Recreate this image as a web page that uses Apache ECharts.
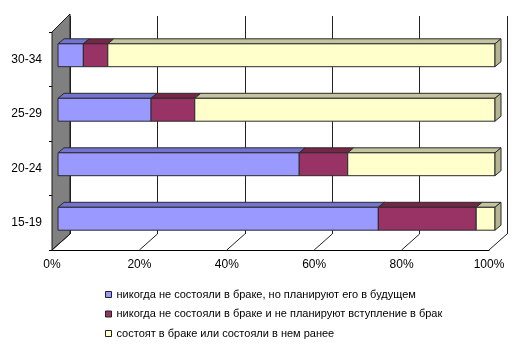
<!DOCTYPE html>
<html><head><meta charset="utf-8">
<script src="https://cdn.jsdelivr.net/npm/echarts@6/dist/echarts.min.js"></script>
<style>html,body{margin:0;padding:0;background:#fff}#c{width:523px;height:347px}</style>
</head><body><div id="c"></div>
<script>
const categories = ['15-19', '20-24', '25-29', '30-34'];
const neverButPlanning = [73.3, 55.2, 21.3, 5.8];
const neverNotPlanning = [22.4, 11.1, 10.0, 5.6];
const marriedNowOrBefore = [4.3, 33.7, 68.7, 88.6];
const xTicks = [0, 20, 40, 60, 80, 100];
const seriesNames = [
  'никогда не состояли в браке, но планируют его в будущем',
  'никогда не состояли в браке и не планируют вступление в брак',
  'состоят в браке или состояли в нем ранее'
];

const FONT = '"Liberation Sans", Arial, sans-serif';
const front = ['#9999FF', '#993366', '#FFFFCC'];
const topc = ['#7373D2', '#772648', '#C4C4A0'];
const sidec = '#B5B591';
const DX = 18, DY = -16;   // depth of the 3D box
const BDX = 6, BDY = -5;   // depth of each bar

const valueSets = [neverButPlanning, neverNotPlanning, marriedNowOrBefore];
const stacked = valueSets.map((vals, s) => vals.map((v, i) => {
  let start = 0;
  for (let k = 0; k < s; k++) start += valueSets[k][i];
  return [i, start, start + v];
}));

function barRender(s) {
  return function (params, api) {
    const cat = api.value(0);
    const c0 = api.coord([api.value(1), cat]);
    const c1 = api.coord([api.value(2), cat]);
    const bh = api.size([0, 1])[1] * 0.42;
    const y0 = c0[1] - bh / 2, y1 = c0[1] + bh / 2;
    const x0 = c0[0], x1 = c1[0];
    const stroke = { stroke: '#2a2a2a', lineWidth: 1 };
    const children = [
      { type: 'polygon', shape: { points: [[x0, y0], [x1, y0], [x1 + BDX, y0 + BDY], [x0 + BDX, y0 + BDY]] },
        style: Object.assign({ fill: topc[s] }, stroke) },
      { type: 'rect', shape: { x: x0, y: y0, width: x1 - x0, height: bh },
        style: Object.assign({ fill: front[s] }, stroke) }
    ];
    if (s === 2) {
      children.push({ type: 'polygon', shape: { points: [[x1, y0], [x1 + BDX, y0 + BDY], [x1 + BDX, y1 + BDY], [x1, y1]] },
        style: Object.assign({ fill: sidec }, stroke) });
    }
    return { type: 'group', children };
  };
}

function frameRender(params, api) {
  const cs = params.coordSys;
  const x = cs.x, y = cs.y, h = cs.height;
  const children = [
    { type: 'polygon', shape: { points: [[x, y], [x + DX, y + DY - 2], [x + DX, y + h + DY], [x, y + h]] },
      style: { fill: '#808080', stroke: '#1a1a1a', lineWidth: 1 } }
  ];
  xTicks.forEach(v => {
    const px = api.coord([v, 0])[0];
    children.push({ type: 'line', shape: { x1: px, y1: y + h, x2: px + DX, y2: y + h + DY },
      style: { stroke: '#222', lineWidth: 1 } });
  });
  return { type: 'group', children };
}

const chart = echarts.init(document.getElementById('c'));
chart.setOption({
  backgroundColor: '#fff',
  animation: false,
  legend: {
    orient: 'vertical', left: 100, top: 284,
    itemWidth: 6, itemHeight: 6, itemGap: 8.5,
    itemStyle: { borderColor: '#222', borderWidth: 1 },
    icon: 'rect',
    textStyle: { fontFamily: FONT, fontSize: 11, color: '#000' },
    data: seriesNames.map((n, i) => ({ name: n, itemStyle: { color: front[i], borderColor: '#222', borderWidth: 1 } }))
  },
  grid: [
    { left: 52, width: 437, top: 32, height: 218 },          // front plane
    { left: 70, width: 437, top: 16, height: 218 },          // back wall plane
    { left: 58, width: 437, top: 28, height: 218 }           // bar plane
  ],
  xAxis: [
    { gridIndex: 0, type: 'value', min: 0, max: 100, interval: 20,
      axisLine: { show: true, lineStyle: { color: '#000' } }, axisTick: { show: false },
      splitLine: { show: false },
      axisLabel: { formatter: '{value}%', fontFamily: FONT, fontSize: 12, color: '#000', margin: 9 } },
    { gridIndex: 1, type: 'value', min: 0, max: 100, interval: 20,
      axisLine: { show: false }, axisTick: { show: false }, axisLabel: { show: false },
      splitLine: { show: true, lineStyle: { color: '#222', width: 1 } } },
    { gridIndex: 2, type: 'value', min: 0, max: 100, interval: 20, show: false }
  ],
  yAxis: [
    { gridIndex: 0, type: 'category', data: categories,
      axisLine: { show: true, lineStyle: { color: '#000' } },
      axisTick: { show: true, length: 3, lineStyle: { color: '#000' } },
      axisLabel: { fontFamily: FONT, fontSize: 12, color: '#000', margin: 10 } },
    { gridIndex: 1, type: 'category', data: categories, show: false },
    { gridIndex: 2, type: 'category', data: categories, show: false }
  ],
  series: [
    { type: 'custom', name: 'frame', xAxisIndex: 0, yAxisIndex: 0, data: [[0, 0]],
      renderItem: frameRender, silent: true, z: 1, clip: false },
  ].concat(stacked.map((d, s) => ({
    type: 'custom', name: seriesNames[s], xAxisIndex: 2, yAxisIndex: 2,
    itemStyle: { color: front[s] },
    encode: { x: [1, 2], y: 0 },
    data: d, renderItem: barRender(s), z: 3, clip: false
  })))
});
</script></body></html>
